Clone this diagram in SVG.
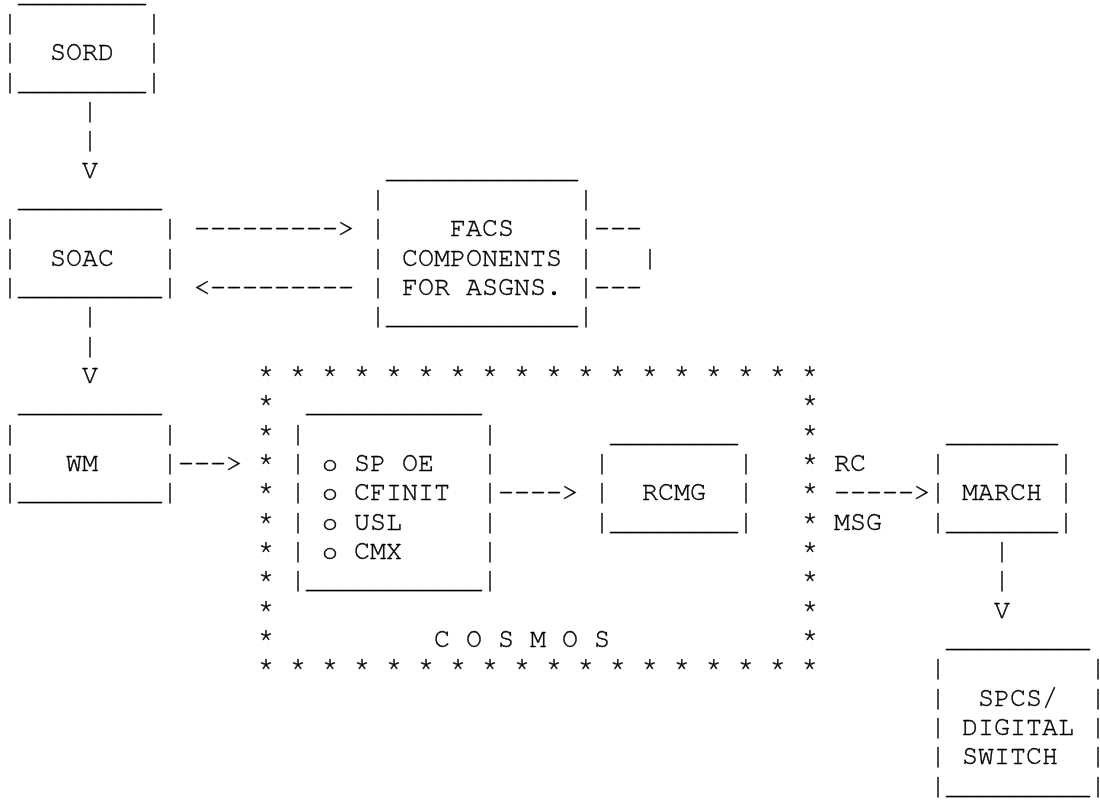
<svg xmlns="http://www.w3.org/2000/svg" width="1100" height="803" viewBox="0 0 1100 803">
<style>
text{font-family:"Nimbus Mono PS","Nimbus Mono L","FreeMono","Courier New","Courier","Liberation Mono",monospace;font-size:26.667px;fill:#000;stroke:#000;stroke-width:0.4px;white-space:pre}
</style>
<defs>
<filter id="gray" x="0" y="0" width="1100" height="803" filterUnits="userSpaceOnUse" color-interpolation-filters="sRGB"><feColorMatrix type="saturate" values="0"/></filter>
</defs>
<rect width="1100" height="803" fill="#fff"/>
<g filter="url(#gray)">
<g id="node-sord">
<text x="18" y="1.7">________</text>
<text x="2" y="31.03">|</text><text x="146" y="31.03">|</text>
<text x="2" y="60.37">|</text><text x="50" y="60.37">SORD</text><text x="146" y="60.37">|</text>
<text x="2" y="89.7">|________|</text>
</g>
<g id="node-soac">
<text x="18" y="207.03">_________</text>
<text x="2" y="236.37">|</text><text x="162" y="236.37">|</text>
<text x="2" y="265.7">|</text><text x="50" y="265.7">SOAC</text><text x="162" y="265.7">|</text>
<text x="2" y="295.03">|_________|</text>
</g>
<g id="node-facs">
<text x="386" y="177.7">____________</text>
<text x="370" y="207.03">|</text><text x="578" y="207.03">|</text>
<text x="370" y="236.37">|</text><text x="450" y="236.37">FACS</text><text x="578" y="236.37">|</text>
<text x="370" y="265.7">|</text><text x="402" y="265.7">COMPONENTS</text><text x="578" y="265.7">|</text>
<text x="370" y="295.03">|</text><text x="402" y="295.03">FOR ASGNS.</text><text x="578" y="295.03">|</text>
<text x="370" y="324.37">|____________|</text>
</g>
<g id="node-wm">
<text x="18" y="412.37">_________</text>
<text x="2" y="441.7">|</text><text x="162" y="441.7">|</text>
<text x="2" y="471.03">|</text><text x="66" y="471.03">WM</text><text x="162" y="471.03">|</text>
<text x="2" y="500.37">|_________|</text>
</g>
<g id="node-cosmos">
<text x="258" y="383.03">* * * * * * * * * * * * * * * * * *</text>
<text x="258" y="412.37">*</text><text x="802" y="412.37">*</text>
<text x="258" y="441.7">*</text><text x="802" y="441.7">*</text>
<text x="258" y="471.03">*</text><text x="802" y="471.03">*</text>
<text x="258" y="500.37">*</text><text x="802" y="500.37">*</text>
<text x="258" y="529.7">*</text><text x="802" y="529.7">*</text>
<text x="258" y="559.03">*</text><text x="802" y="559.03">*</text>
<text x="258" y="588.37">*</text><text x="802" y="588.37">*</text>
<text x="258" y="617.7">*</text><text x="802" y="617.7">*</text>
<text x="258" y="647.03">*</text><text x="802" y="647.03">*</text>
<text x="434" y="647.03">C O S M O S</text>
<text x="258" y="676.37">* * * * * * * * * * * * * * * * * *</text>
</g>
<g id="node-modules">
<text x="306" y="412.37">___________</text>
<text x="290" y="441.7">|</text><text x="482" y="441.7">|</text>
<text x="290" y="471.03">|</text><text x="322" y="471.03">o SP OE</text><text x="482" y="471.03">|</text>
<text x="290" y="500.37">|</text><text x="322" y="500.37">o CFINIT</text><text x="482" y="500.37">|</text>
<text x="290" y="529.7">|</text><text x="322" y="529.7">o USL</text><text x="482" y="529.7">|</text>
<text x="290" y="559.03">|</text><text x="322" y="559.03">o CMX</text><text x="482" y="559.03">|</text>
<text x="290" y="588.37">|___________|</text>
</g>
<g id="node-rcmg">
<text x="610" y="441.7">________</text>
<text x="594" y="471.03">|</text><text x="738" y="471.03">|</text>
<text x="594" y="500.37">|</text><text x="642" y="500.37">RCMG</text><text x="738" y="500.37">|</text>
<text x="594" y="529.7">|________|</text>
</g>
<g id="node-march">
<text x="946" y="441.7">_______</text>
<text x="930" y="471.03">|</text><text x="1058" y="471.03">|</text>
<text x="930" y="500.37">|</text><text x="962" y="500.37">MARCH</text><text x="1058" y="500.37">|</text>
<text x="930" y="529.7">|_______|</text>
</g>
<g id="node-spcs">
<text x="946" y="647.03">_________</text>
<text x="930" y="676.37">|</text><text x="1090" y="676.37">|</text>
<text x="930" y="705.7">|</text><text x="978" y="705.7">SPCS/</text><text x="1090" y="705.7">|</text>
<text x="930" y="735.03">|</text><text x="962" y="735.03">DIGITAL</text><text x="1090" y="735.03">|</text>
<text x="930" y="764.37">|</text><text x="962" y="764.37">SWITCH</text><text x="1090" y="764.37">|</text>
<text x="930" y="793.7">|_________|</text>
</g>
<g id="connectors">
<text x="82" y="119.03">|</text>
<text x="82" y="148.37">|</text>
<text x="82" y="177.7">V</text>
<text x="194" y="236.37">---------&gt;</text>
<text x="194" y="295.03">&lt;---------</text>
<text x="594" y="236.37">---</text>
<text x="642" y="265.7">|</text>
<text x="594" y="295.03">---</text>
<text x="82" y="324.37">|</text>
<text x="82" y="353.7">|</text>
<text x="82" y="383.03">V</text>
<text x="178" y="471.03">---&gt;</text>
<text x="498" y="500.37">----&gt;</text>
<text x="834" y="471.03">RC</text>
<text x="834" y="500.37">-----&gt;</text>
<text x="834" y="529.7">MSG</text>
<text x="994" y="559.03">|</text>
<text x="994" y="588.37">|</text>
<text x="994" y="617.7">V</text>
</g>
</g>
</svg>
